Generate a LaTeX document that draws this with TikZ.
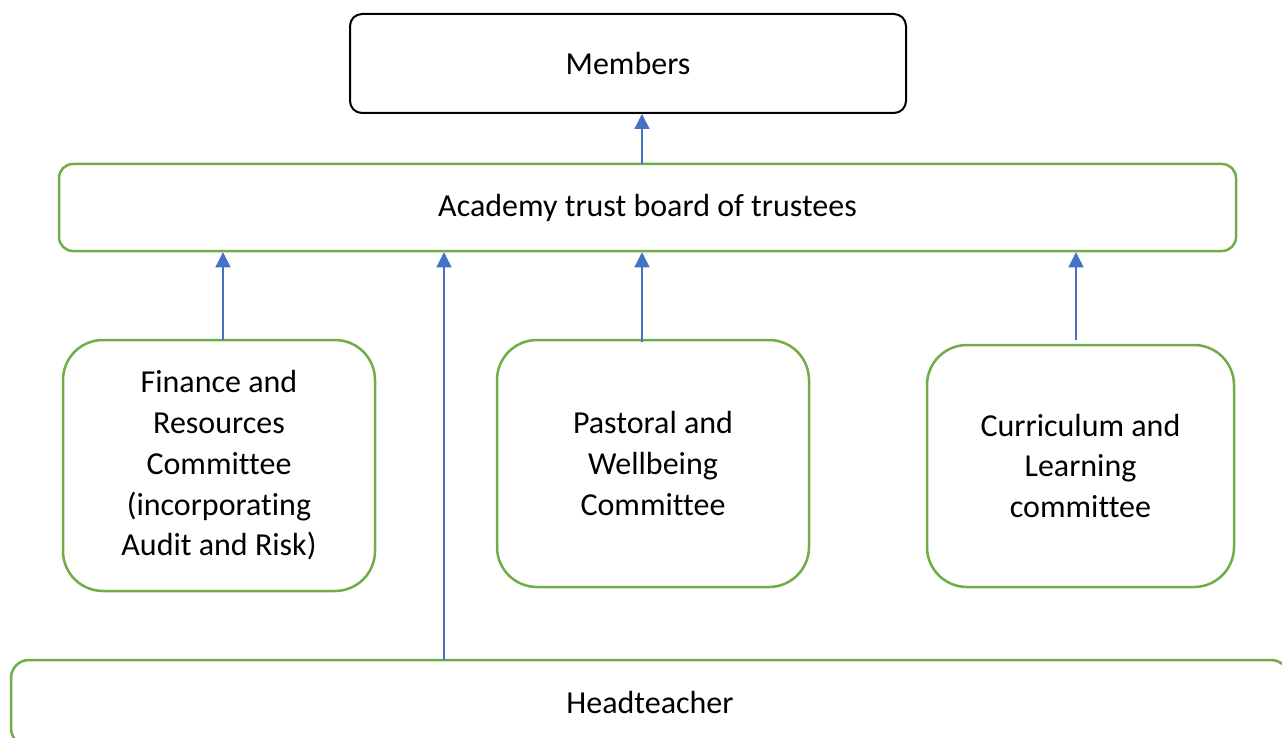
\documentclass[tikz,border=0pt]{standalone}
\usepackage{fontspec}
\setmainfont{Carlito}[RawFeature=-liga]
\usetikzlibrary{arrows.meta}
\definecolor{leaf}{HTML}{70AD47}
\definecolor{arrowblue}{HTML}{4472C4}
\begin{document}
\begin{tikzpicture}[x=1pt,y=-1pt,
  every node/.style={font=\fontsize{32}{40.7}\selectfont, align=center, inner sep=0pt},
  greenbox/.style={draw=leaf, line width=2.5pt, fill=white},
  linkarrow/.style={draw=arrowblue, line width=1.3pt, -{Triangle[width=15pt,length=15pt]}}]
  \useasboundingbox (0,0) rectangle (1282,738);
  \clip (0,0) rectangle (1282,738);
  % boxes
  \node[draw=black, line width=2pt, rounded corners=12pt, minimum width=556pt, minimum height=99pt] (mem) at (628,63.5) {Members};
  \node[greenbox, rounded corners=14pt, minimum width=1177pt, minimum height=87pt] (board) at (647.5,207.5) {Academy trust board of trustees};
  \node[greenbox, rounded corners=40pt, minimum width=312pt, minimum height=251pt] (fin) at (219,465.5) {Finance and\\Resources\\Committee\\(incorporating\\Audit and Risk)};
  \node[greenbox, rounded corners=40pt, minimum width=312pt, minimum height=247pt] (pas) at (653,463.5) {Pastoral and\\Wellbeing\\Committee};
  \node[greenbox, rounded corners=40pt, minimum width=307pt, minimum height=242pt] (cur) at (1080.5,466) {Curriculum and\\Learning\\committee};
  \node[greenbox, rounded corners=18pt, minimum width=1278pt, minimum height=86pt] (head) at (650,703) {Headteacher};
  % connector anchor points
  \coordinate (bm) at (642,164);
  \coordinate (fa) at (223,340);
  \coordinate (pa) at (642,342);
  \coordinate (ca) at (1076,340);
  \coordinate (ha) at (444,660);
  % connectors
  \draw[linkarrow] (bm) -- (bm |- mem.south);
  \draw[linkarrow] (fa) -- (fa |- board.south);
  \draw[linkarrow] (pa) -- (pa |- board.south);
  \draw[linkarrow] (ca) -- (ca |- board.south);
  \draw[linkarrow] (ha) -- (ha |- board.south);
\end{tikzpicture}
\end{document}
